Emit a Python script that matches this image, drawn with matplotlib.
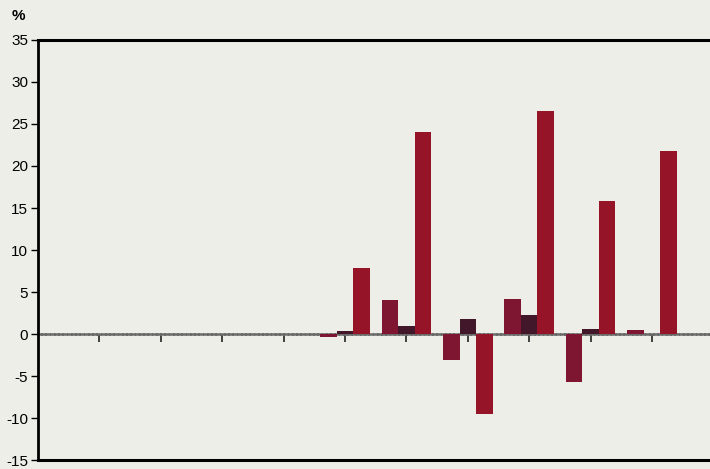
import numpy as np
import matplotlib
matplotlib.use("Agg")
import matplotlib.pyplot as plt

# categories (first five have no data)
categories = list(range(11))
series_a = [0, 0, 0, 0, 0, -0.3, 4.0, -3.1, 4.2, -5.7, 0.5]
series_b = [0, 0, 0, 0, 0, 0.3, 0.9, 1.8, 2.3, 0.6, 0]
series_c = [0, 0, 0, 0, 0, 7.9, 24.0, -9.5, 26.6, 15.8, 21.8]
yticks = [-15, -10, -5, 0, 5, 10, 15, 20, 25, 30, 35]

bg = "#eeeee9"
col_a = "#7e1631"
col_b = "#42172a"
col_c = "#951427"

plt.rcParams['font.family'] = ['Liberation Sans', 'DejaVu Sans']

fig = plt.figure(figsize=(7.1, 4.69), dpi=100, facecolor=bg)
ax = fig.add_axes([38/710, 9/469, 1 - 38/710, 420/469])
ax.set_facecolor(bg)

x = np.array(categories)
w = 0.27
ax.bar(x - w, series_a, width=w, color=col_a, zorder=3)
ax.bar(x, series_b, width=w, color=col_b, zorder=3)
ax.bar(x + w, series_c, width=w, color=col_c, zorder=3)

ax.set_ylim(-15, 35)
ax.set_xlim(0, 672/61.4)
ax.set_yticks(yticks)
ax.set_yticklabels([str(v) for v in yticks], fontsize=11)
ax.set_xticks(x[1:])
ax.set_xticklabels([])

# zero line as bottom spine, frame bottom drawn separately
ax.spines['bottom'].set_position(('data', 0))
ax.spines['bottom'].set_color('#6a6a6a')
ax.spines['bottom'].set_linewidth(1.8)
ax.spines['bottom'].set_linestyle((0, (1.1, 0.6)))
ax.spines['bottom'].set_zorder(2)
ax.axhline(-15, color='black', lw=2.2, clip_on=False)
ax.spines['top'].set_linewidth(2.2)
ax.spines['left'].set_linewidth(2.0)
ax.spines['right'].set_visible(False)

ax.tick_params(axis='x', direction='out', length=6, width=1.3, color='#333333')
ax.tick_params(axis='y', direction='out', length=5, width=1.0, pad=2)

fig.text(12/710, 1 - 16/469, '%', fontsize=11, fontweight='bold', va='center')

fig.savefig('out.png', dpi=100, facecolor=bg)
